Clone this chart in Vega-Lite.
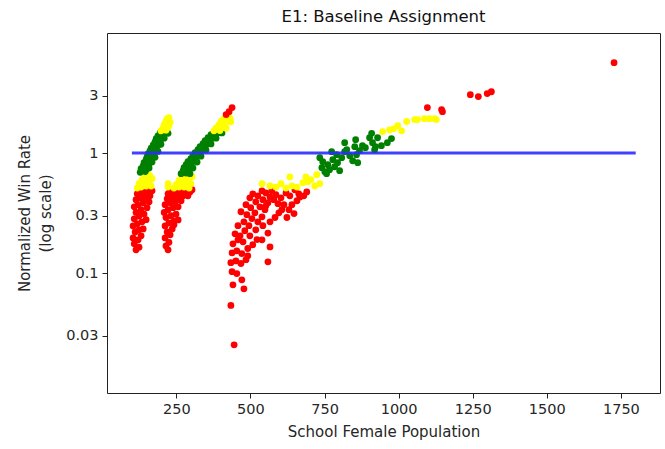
{
  "$schema": "https://vega.github.io/schema/vega-lite/v6.json",
  "width": 553,
  "height": 360,
  "autosize": {"type": "none"},
  "padding": {"left": 107, "top": 33, "right": 5, "bottom": 56},
  "background": "white",
  "config": {
    "font": "DejaVu Sans",
    "view": {"stroke": "#222", "strokeWidth": 1},
    "axis": {
      "domain": false, "grid": false, "tickColor": "#222", "tickSize": 5, "tickWidth": 1,
      "labelFont": "DejaVu Sans", "labelFontSize": 14.5, "labelColor": "#262626", "labelPadding": 4,
      "titleFont": "DejaVu Sans", "titleFontSize": 15, "titleFontWeight": "normal", "titleColor": "#262626"
    }
  },
  "title": {"text": "E1: Baseline Assignment", "font": "DejaVu Sans", "fontSize": 16.5, "fontWeight": "normal", "color": "#111", "offset": 8},
  "datasets": {
    "pts": [
      {"x":114,"y":0.156,"c":"r"},{"x":124,"y":0.164,"c":"r"},{"x":108,"y":0.175,"c":"r"},{"x":121,"y":0.189,"c":"r"},{"x":104,"y":0.196,"c":"r"},{"x":131,"y":0.204,"c":"r"},{"x":111,"y":0.22,"c":"r"},{"x":124,"y":0.229,"c":"r"},{"x":138,"y":0.233,"c":"r"},{"x":104,"y":0.247,"c":"r"},{"x":118,"y":0.257,"c":"r"},{"x":134,"y":0.267,"c":"r"},{"x":148,"y":0.278,"c":"r"},{"x":108,"y":0.283,"c":"r"},{"x":124,"y":0.298,"c":"r"},{"x":141,"y":0.31,"c":"r"},{"x":114,"y":0.32,"c":"r"},{"x":131,"y":0.337,"c":"r"},{"x":151,"y":0.35,"c":"r"},{"x":108,"y":0.356,"c":"r"},{"x":121,"y":0.371,"c":"r"},{"x":138,"y":0.385,"c":"r"},{"x":158,"y":0.392,"c":"r"},{"x":114,"y":0.408,"c":"r"},{"x":128,"y":0.423,"c":"r"},{"x":145,"y":0.43,"c":"r"},{"x":161,"y":0.44,"c":"r"},{"x":118,"y":0.457,"c":"r"},{"x":134,"y":0.465,"c":"r"},{"x":151,"y":0.474,"c":"r"},{"x":168,"y":0.484,"c":"r"},{"x":124,"y":0.49,"c":"r"},{"x":141,"y":0.49,"c":"r"},{"x":158,"y":0.485,"c":"r"},
      {"x":118,"y":0.51,"c":"y"},{"x":131,"y":0.52,"c":"y"},{"x":148,"y":0.53,"c":"y"},{"x":165,"y":0.53,"c":"y"},{"x":124,"y":0.555,"c":"y"},{"x":141,"y":0.565,"c":"y"},{"x":158,"y":0.575,"c":"y"},{"x":134,"y":0.6,"c":"y"},{"x":151,"y":0.61,"c":"y"},{"x":168,"y":0.61,"c":"y"},{"x":145,"y":0.63,"c":"y"},{"x":161,"y":0.645,"c":"y"},{"x":155,"y":0.66,"c":"y"},
      {"x":128,"y":0.69,"c":"g"},{"x":145,"y":0.70,"c":"g"},{"x":131,"y":0.74,"c":"g"},{"x":148,"y":0.73,"c":"g"},{"x":158,"y":0.75,"c":"g"},{"x":138,"y":0.78,"c":"g"},{"x":155,"y":0.79,"c":"g"},{"x":141,"y":0.83,"c":"g"},{"x":158,"y":0.82,"c":"g"},{"x":168,"y":0.84,"c":"g"},{"x":148,"y":0.88,"c":"g"},{"x":161,"y":0.87,"c":"g"},{"x":151,"y":0.93,"c":"g"},{"x":168,"y":0.94,"c":"g"},{"x":178,"y":0.92,"c":"g"},{"x":155,"y":0.99,"c":"g"},{"x":172,"y":0.98,"c":"g"},{"x":161,"y":1.04,"c":"g"},{"x":178,"y":1.05,"c":"g"},{"x":188,"y":1.03,"c":"g"},{"x":165,"y":1.1,"c":"g"},{"x":182,"y":1.11,"c":"g"},{"x":172,"y":1.17,"c":"g"},{"x":188,"y":1.16,"c":"g"},{"x":198,"y":1.18,"c":"g"},{"x":178,"y":1.24,"c":"g"},{"x":195,"y":1.25,"c":"g"},{"x":182,"y":1.32,"c":"g"},{"x":198,"y":1.31,"c":"g"},{"x":209,"y":1.33,"c":"g"},{"x":188,"y":1.39,"c":"g"},{"x":205,"y":1.4,"c":"g"},{"x":195,"y":1.47,"c":"g"},{"x":212,"y":1.48,"c":"g"},{"x":222,"y":1.46,"c":"g"},
      {"x":198,"y":1.53,"c":"y"},{"x":215,"y":1.55,"c":"y"},{"x":205,"y":1.62,"c":"y"},{"x":222,"y":1.64,"c":"y"},{"x":209,"y":1.72,"c":"y"},{"x":225,"y":1.7,"c":"y"},{"x":215,"y":1.83,"c":"y"},{"x":229,"y":1.8,"c":"y"},{"x":219,"y":1.93,"c":"y"},{"x":225,"y":1.97,"c":"y"},
      {"x":222,"y":0.156,"c":"r"},{"x":215,"y":0.168,"c":"r"},{"x":225,"y":0.18,"c":"r"},{"x":212,"y":0.196,"c":"r"},{"x":229,"y":0.208,"c":"r"},{"x":219,"y":0.22,"c":"r"},{"x":236,"y":0.233,"c":"r"},{"x":212,"y":0.247,"c":"r"},{"x":225,"y":0.262,"c":"r"},{"x":242,"y":0.272,"c":"r"},{"x":215,"y":0.29,"c":"r"},{"x":232,"y":0.3,"c":"r"},{"x":249,"y":0.31,"c":"r"},{"x":209,"y":0.32,"c":"r"},{"x":222,"y":0.337,"c":"r"},{"x":239,"y":0.35,"c":"r"},{"x":256,"y":0.356,"c":"r"},{"x":212,"y":0.371,"c":"r"},{"x":229,"y":0.385,"c":"r"},{"x":246,"y":0.392,"c":"r"},{"x":266,"y":0.4,"c":"r"},{"x":219,"y":0.415,"c":"r"},{"x":236,"y":0.423,"c":"r"},{"x":252,"y":0.43,"c":"r"},{"x":273,"y":0.44,"c":"r"},{"x":289,"y":0.44,"c":"r"},{"x":222,"y":0.457,"c":"r"},{"x":239,"y":0.465,"c":"r"},{"x":259,"y":0.465,"c":"r"},{"x":279,"y":0.474,"c":"r"},{"x":296,"y":0.474,"c":"r"},{"x":229,"y":0.49,"c":"r"},{"x":249,"y":0.49,"c":"r"},{"x":269,"y":0.492,"c":"r"},{"x":286,"y":0.488,"c":"r"},{"x":303,"y":0.495,"c":"r"},{"x":256,"y":0.277,"c":"r"},{"x":242,"y":0.252,"c":"r"},
      {"x":222,"y":0.555,"c":"y"},{"x":222,"y":0.52,"c":"y"},{"x":242,"y":0.51,"c":"y"},{"x":259,"y":0.52,"c":"y"},{"x":276,"y":0.52,"c":"y"},{"x":293,"y":0.51,"c":"y"},{"x":249,"y":0.544,"c":"y"},{"x":266,"y":0.555,"c":"y"},{"x":283,"y":0.565,"c":"y"},{"x":299,"y":0.555,"c":"y"},{"x":259,"y":0.59,"c":"y"},{"x":276,"y":0.6,"c":"y"},{"x":293,"y":0.61,"c":"y"},{"x":269,"y":0.635,"c":"y"},{"x":286,"y":0.645,"c":"y"},{"x":303,"y":0.635,"c":"y"},
      {"x":266,"y":0.672,"c":"g"},{"x":283,"y":0.68,"c":"g"},{"x":296,"y":0.672,"c":"g"},{"x":273,"y":0.712,"c":"g"},{"x":289,"y":0.72,"c":"g"},{"x":276,"y":0.754,"c":"g"},{"x":293,"y":0.76,"c":"g"},{"x":306,"y":0.75,"c":"g"},{"x":283,"y":0.8,"c":"g"},{"x":299,"y":0.81,"c":"g"},{"x":289,"y":0.846,"c":"g"},{"x":306,"y":0.85,"c":"g"},{"x":320,"y":0.84,"c":"g"},{"x":299,"y":0.896,"c":"g"},{"x":316,"y":0.9,"c":"g"},{"x":306,"y":0.95,"c":"g"},{"x":323,"y":0.955,"c":"g"},{"x":333,"y":0.94,"c":"g"},{"x":313,"y":1.006,"c":"g"},{"x":330,"y":1.01,"c":"g"},{"x":323,"y":1.066,"c":"g"},{"x":340,"y":1.07,"c":"g"},{"x":350,"y":1.06,"c":"g"},{"x":330,"y":1.13,"c":"g"},{"x":347,"y":1.135,"c":"g"},{"x":340,"y":1.196,"c":"g"},{"x":357,"y":1.2,"c":"g"},{"x":367,"y":1.19,"c":"g"},{"x":347,"y":1.267,"c":"g"},{"x":364,"y":1.27,"c":"g"},{"x":357,"y":1.34,"c":"g"},{"x":374,"y":1.345,"c":"g"},{"x":384,"y":1.33,"c":"g"},{"x":367,"y":1.42,"c":"g"},{"x":384,"y":1.425,"c":"g"},{"x":377,"y":1.48,"c":"g"},{"x":394,"y":1.48,"c":"g"},{"x":404,"y":1.47,"c":"g"},
      {"x":377,"y":1.53,"c":"y"},{"x":397,"y":1.54,"c":"y"},{"x":384,"y":1.62,"c":"y"},{"x":404,"y":1.63,"c":"y"},{"x":418,"y":1.61,"c":"y"},{"x":394,"y":1.72,"c":"y"},{"x":414,"y":1.73,"c":"y"},{"x":401,"y":1.83,"c":"y"},{"x":421,"y":1.84,"c":"y"},{"x":434,"y":1.82,"c":"y"},{"x":411,"y":1.93,"c":"y"},{"x":431,"y":1.94,"c":"y"},
      {"x":418,"y":2.09,"c":"r"},{"x":438,"y":2.39,"c":"r"},{"x":428,"y":2.21,"c":"r"},
      {"x":445,"y":0.0252,"c":"r"},{"x":434,"y":0.0537,"c":"r"},{"x":478,"y":0.0738,"c":"r"},{"x":441,"y":0.0797,"c":"r"},{"x":438,"y":0.1025,"c":"r"},{"x":454,"y":0.099,"c":"r"},{"x":471,"y":0.0877,"c":"r"},{"x":434,"y":0.122,"c":"r"},{"x":451,"y":0.126,"c":"r"},{"x":468,"y":0.12,"c":"r"},{"x":485,"y":0.129,"c":"r"},{"x":438,"y":0.147,"c":"r"},{"x":454,"y":0.153,"c":"r"},{"x":471,"y":0.145,"c":"r"},{"x":491,"y":0.139,"c":"r"},{"x":441,"y":0.175,"c":"r"},{"x":458,"y":0.189,"c":"r"},{"x":475,"y":0.182,"c":"r"},{"x":448,"y":0.212,"c":"r"},{"x":465,"y":0.204,"c":"r"},{"x":481,"y":0.225,"c":"r"},{"x":498,"y":0.204,"c":"r"},{"x":458,"y":0.248,"c":"r"},{"x":478,"y":0.267,"c":"r"},{"x":518,"y":0.229,"c":"r"},{"x":495,"y":0.248,"c":"r"},{"x":468,"y":0.324,"c":"r"},{"x":488,"y":0.306,"c":"r"},{"x":505,"y":0.284,"c":"r"},{"x":525,"y":0.267,"c":"r"},{"x":485,"y":0.371,"c":"r"},{"x":501,"y":0.35,"c":"r"},{"x":515,"y":0.317,"c":"r"},{"x":539,"y":0.294,"c":"r"},{"x":498,"y":0.423,"c":"r"},{"x":518,"y":0.392,"c":"r"},{"x":532,"y":0.356,"c":"r"},{"x":549,"y":0.337,"c":"r"},{"x":508,"y":0.457,"c":"r"},{"x":525,"y":0.44,"c":"r"},{"x":542,"y":0.408,"c":"r"},{"x":559,"y":0.385,"c":"r"},{"x":539,"y":0.484,"c":"r"},{"x":552,"y":0.465,"c":"r"},{"x":566,"y":0.43,"c":"r"},{"x":579,"y":0.408,"c":"r"},{"x":593,"y":0.378,"c":"r"},{"x":572,"y":0.484,"c":"r"},{"x":586,"y":0.449,"c":"r"},{"x":603,"y":0.423,"c":"r"},{"x":620,"y":0.465,"c":"r"},{"x":633,"y":0.44,"c":"r"},{"x":650,"y":0.494,"c":"r"},{"x":663,"y":0.457,"c":"r"},{"x":613,"y":0.371,"c":"r"},{"x":630,"y":0.337,"c":"r"},{"x":647,"y":0.313,"c":"r"},{"x":596,"y":0.317,"c":"r"},{"x":583,"y":0.29,"c":"r"},{"x":566,"y":0.267,"c":"r"},{"x":559,"y":0.215,"c":"r"},{"x":566,"y":0.165,"c":"r"},{"x":559,"y":0.124,"c":"r"},{"x":542,"y":0.248,"c":"r"},{"x":522,"y":0.19,"c":"r"},{"x":539,"y":0.189,"c":"r"},{"x":508,"y":0.172,"c":"r"},{"x":491,"y":0.16,"c":"r"},{"x":552,"y":0.363,"c":"r"},{"x":606,"y":0.337,"c":"r"},{"x":623,"y":0.29,"c":"r"},{"x":640,"y":0.371,"c":"r"},{"x":657,"y":0.4,"c":"r"},{"x":667,"y":0.43,"c":"r"},{"x":680,"y":0.44,"c":"r"},{"x":690,"y":0.474,"c":"r"},
      {"x":539,"y":0.555,"c":"y"},{"x":566,"y":0.532,"c":"y"},{"x":586,"y":0.52,"c":"y"},{"x":603,"y":0.555,"c":"y"},{"x":620,"y":0.51,"c":"y"},{"x":633,"y":0.632,"c":"y"},{"x":640,"y":0.532,"c":"y"},{"x":657,"y":0.52,"c":"y"},{"x":677,"y":0.565,"c":"y"},{"x":694,"y":0.575,"c":"y"},{"x":687,"y":0.632,"c":"y"},{"x":717,"y":0.532,"c":"y"},{"x":724,"y":0.659,"c":"y"},{"x":734,"y":0.555,"c":"y"},{"x":704,"y":0.6,"c":"y"},
      {"x":734,"y":0.914,"c":"g"},{"x":744,"y":0.846,"c":"g"},{"x":761,"y":0.8,"c":"g"},{"x":741,"y":0.754,"c":"g"},{"x":751,"y":0.698,"c":"g"},{"x":767,"y":0.726,"c":"g"},{"x":778,"y":0.879,"c":"g"},{"x":784,"y":0.768,"c":"g"},{"x":794,"y":0.83,"c":"g"},{"x":801,"y":0.712,"c":"g"},{"x":774,"y":1.025,"c":"g"},{"x":791,"y":0.968,"c":"g"},{"x":808,"y":0.914,"c":"g"},{"x":818,"y":1.22,"c":"g"},{"x":825,"y":1.066,"c":"g"},{"x":835,"y":0.95,"c":"g"},{"x":845,"y":0.862,"c":"g"},{"x":852,"y":1.13,"c":"g"},{"x":858,"y":0.968,"c":"g"},{"x":862,"y":0.83,"c":"g"},{"x":855,"y":1.29,"c":"g"},{"x":868,"y":1.045,"c":"g"},{"x":878,"y":1.15,"c":"g"},{"x":888,"y":1.107,"c":"g"},{"x":902,"y":1.34,"c":"g"},{"x":909,"y":1.46,"c":"g"},{"x":912,"y":1.22,"c":"g"},{"x":919,"y":1.066,"c":"g"},{"x":922,"y":1.13,"c":"g"},{"x":929,"y":1.34,"c":"g"},{"x":942,"y":1.15,"c":"g"},{"x":976,"y":1.32,"c":"g"},{"x":962,"y":1.22,"c":"g"},{"x":757,"y":0.672,"c":"g"},{"x":818,"y":1.025,"c":"g"},
      {"x":946,"y":1.51,"c":"y"},{"x":970,"y":1.56,"c":"y"},{"x":983,"y":1.59,"c":"y"},{"x":997,"y":1.69,"c":"y"},{"x":1010,"y":1.53,"c":"y"},{"x":1027,"y":1.83,"c":"y"},{"x":1054,"y":1.9,"c":"y"},{"x":1064,"y":1.9,"c":"y"},{"x":1087,"y":1.93,"c":"y"},{"x":1104,"y":1.93,"c":"y"},{"x":1121,"y":1.93,"c":"y"},{"x":1127,"y":1.9,"c":"y"},
      {"x":1097,"y":2.39,"c":"r"},{"x":1148,"y":2.21,"c":"r"},{"x":1145,"y":2.3,"c":"r"},{"x":1242,"y":3.06,"c":"r"},{"x":1269,"y":2.95,"c":"r"},{"x":1299,"y":3.13,"c":"r"},{"x":1313,"y":3.24,"c":"r"},{"x":1727,"y":5.66,"c":"r"}
    ],
    "ref": [{"x": 100, "y": 1}, {"x": 1800, "y": 1}]
  },
  "layer": [
    {
      "data": {"name": "pts"},
      "mark": {"type": "circle", "size": 46, "opacity": 1},
      "encoding": {
        "x": {"field": "x", "type": "quantitative", "scale": {"domain": [16, 1882], "nice": false, "zero": false},
              "axis": {"values": [250, 500, 750, 1000, 1250, 1500, 1750], "format": "d", "title": "School Female Population", "titlePadding": 9}},
        "y": {"field": "y", "type": "quantitative", "scale": {"type": "log", "domain": [0.01, 10], "nice": false},
              "axis": {"values": [0.03, 0.1, 0.3, 1, 3], "format": "~g", "title": ["Normalized Win Rate", "(log scale)"], "titlePadding": 12, "titleLineHeight": 21}}
      ,
        "color": {"field": "c", "type": "nominal", "scale": {"domain": ["r", "y", "g"], "range": ["#ff0000", "#ffff00", "#008000"]}, "legend": null}
      }
    },
    {
      "data": {"name": "ref"},
      "mark": {"type": "line", "color": "#2b2bff", "strokeWidth": 2.8, "opacity": 0.9},
      "encoding": {
        "x": {"field": "x", "type": "quantitative"},
        "y": {"field": "y", "type": "quantitative"}
      }
    }
  ]
}
